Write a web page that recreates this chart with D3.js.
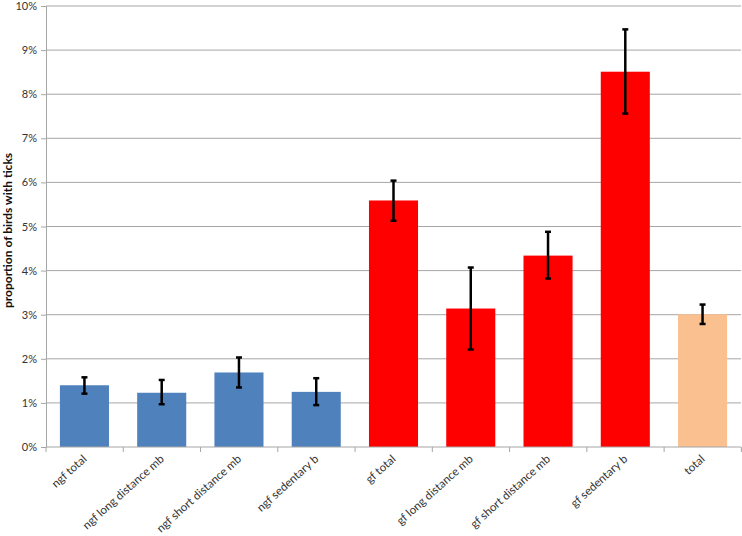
<!DOCTYPE html>
<html>
<head>
<meta charset="utf-8">
<script src="https://cdn.jsdelivr.net/npm/d3@7"></script>
<style>
  body { margin: 0; background: #fff; }
  svg { display: block; font-family: Lato, "Open Sans", sans-serif; }
</style>
</head>
<body>
<svg id="chart" width="742" height="536"></svg>
<script>
// categories and values (proportions, %)
const categories = ["ngf total", "ngf long distance mb", "ngf short distance mb", "ngf sedentary b",
  "gf total", "gf long distance mb", "gf short distance mb", "gf sedentary b", "total"];
const values = [1.40, 1.23, 1.69, 1.25, 5.59, 3.14, 4.34, 8.51, 3.01];
const errLow = [1.21, 0.97, 1.35, 0.95, 5.13, 2.21, 3.82, 7.56, 2.79];
const errHigh = [1.58, 1.52, 2.03, 1.56, 6.04, 4.07, 4.88, 9.47, 3.23];
const groups = ["ngf", "ngf", "ngf", "ngf", "gf", "gf", "gf", "gf", "all"];
const yTicks = [0, 1, 2, 3, 4, 5, 6, 7, 8, 9, 10];

const svg = d3.select("#chart");
const plotLeft = 46, plotRight = 741, plotTop = 6, plotBottom = 447;

const colour = d3.scaleOrdinal()
  .domain(["ngf", "gf", "all"])
  .range(["#4f81bd", "#ff0000", "#fac090"]);

const x = d3.scaleBand()
  .domain(categories)
  .range([plotLeft, plotRight])
  .paddingInner(0.365)
  .paddingOuter(0.18);

const y = d3.scaleLinear().domain([0, 10]).range([plotBottom, plotTop]);

// gridlines
svg.append("g")
  .selectAll("line")
  .data(yTicks.filter(d => d > 0))
  .join("line")
  .attr("x1", plotLeft).attr("x2", plotRight)
  .attr("y1", d => y(d)).attr("y2", d => y(d))
  .attr("stroke", "#a6a6a6").attr("stroke-width", 1);

// y axis
const yAxis = svg.append("g")
  .attr("transform", `translate(${plotLeft},0)`)
  .call(d3.axisLeft(y).tickValues(yTicks).tickFormat(d => d + "%").tickSize(5).tickPadding(4));
yAxis.select(".domain").attr("stroke", "#a6a6a6");
yAxis.selectAll(".tick line").attr("stroke", "#a6a6a6");
yAxis.selectAll("text").attr("font-size", 11).attr("fill", "#333")
  .attr("font-family", "Lato, sans-serif");

// bars
svg.append("g")
  .selectAll("rect")
  .data(categories)
  .join("rect")
  .attr("x", d => x(d))
  .attr("width", x.bandwidth())
  .attr("y", (d, i) => y(values[i]))
  .attr("height", (d, i) => y(0) - y(values[i]))
  .attr("fill", (d, i) => colour(groups[i]));

// x axis with ticks at category boundaries
const step = x.step();
const boundaries = d3.range(categories.length + 1).map(i => plotLeft + i * step);
svg.append("line")
  .attr("x1", plotLeft).attr("x2", plotRight)
  .attr("y1", plotBottom).attr("y2", plotBottom)
  .attr("stroke", "#a6a6a6");
svg.append("g")
  .selectAll("line")
  .data(boundaries)
  .join("line")
  .attr("x1", d => d).attr("x2", d => d)
  .attr("y1", plotBottom).attr("y2", plotBottom + 5)
  .attr("stroke", "#a6a6a6");

// error bars
const err = svg.append("g").attr("stroke", "#000");
categories.forEach((c, i) => {
  const cx = x(c) + x.bandwidth() / 2;
  err.append("line")
    .attr("x1", cx).attr("x2", cx)
    .attr("y1", y(errLow[i])).attr("y2", y(errHigh[i]))
    .attr("stroke-width", 2.5);
  [errLow[i], errHigh[i]].forEach(v => {
    err.append("line")
      .attr("x1", cx - 3).attr("x2", cx + 3)
      .attr("y1", y(v)).attr("y2", y(v))
      .attr("stroke-width", 2.5);
  });
});

// rotated category labels
svg.append("g")
  .selectAll("text")
  .data(categories)
  .join("text")
  .attr("transform", d => `translate(${x(d) + x.bandwidth() / 2 + 3},${plotBottom + 13}) rotate(-42)`)
  .attr("text-anchor", "end")
  .attr("font-size", 11.5)
  .attr("fill", "#333")
  .text(d => d);

// y axis title
svg.append("text")
  .attr("transform", `translate(12,${(plotTop + plotBottom) / 2 + 4}) rotate(-90)`)
  .attr("text-anchor", "middle")
  .attr("font-size", 12)
  .attr("font-weight", "bold")
  .attr("fill", "#111")
  .text("proportion of birds with ticks");
</script>
</body>
</html>
